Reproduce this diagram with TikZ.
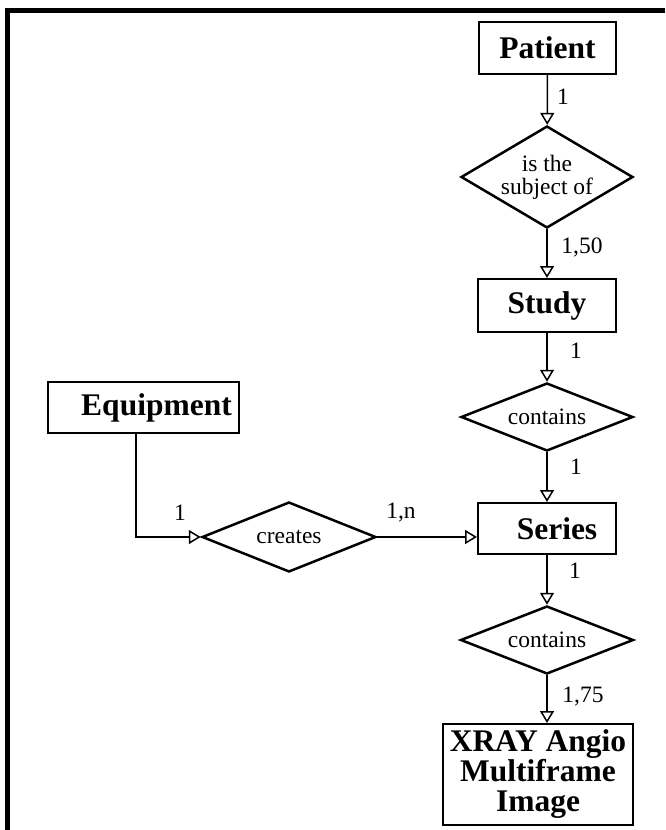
\documentclass[tikz,border=0pt]{standalone}
\usepackage{fontspec}
\setmainfont{Liberation Serif}
\usetikzlibrary{positioning,calc,arrows.meta,shapes.geometric}
\newcommand{\entfont}{\fontsize{31.5}{30}\selectfont\bfseries}
\newcommand{\relfont}{\fontsize{23.5}{23}\selectfont}
\tikzset{
	entity/.style={draw, line width=2pt, font=\entfont, align=center, inner sep=0pt},
	relation/.style={draw, diamond, aspect=2.5, line width=2.5pt, font=\relfont, align=center, inner sep=0pt},
	card/.style={font=\relfont, inner sep=0pt}
}

\begin{document}
\begin{tikzpicture}[x=1pt, y=-1pt, >={Triangle[open, length=12pt, width=14pt]}]
	\useasboundingbox (0, 0) rectangle (665, 830);
	\draw [line width=5pt] (665, 10.5) -- (7.5, 10.5) -- (7.5, 830);

	\begin{scope}
		% main chain
		\node [entity, minimum width=137, minimum height=52] (patient) at (547.5, 48) {Patient};
		\node [relation, minimum width=172, minimum height=102, aspect=1.7] (subj) at (547, 177) {is the\\subject of};
		\node [entity, minimum width=138, minimum height=53] (study) at (547, 305.5) {Study};
		\node [relation, minimum width=172, minimum height=68] (cont1) at (547, 417) {contains};
		\node [entity, minimum width=138, minimum height=51] (series) at (547, 528.5) {\hspace*{20pt}Series};
		\node [relation, minimum width=173, minimum height=68] (cont2) at (547, 640) {contains};
		\node [entity, minimum width=190, minimum height=101] (xray) at (538, 774.5) {XRAY Angio\\Multiframe\\Image};

		% side branch
		\node [entity, minimum width=191, minimum height=51] (equip) at (143.5, 407.5) {\hspace*{26pt}Equipment};
		\node [relation, minimum width=174, minimum height=70] (creates) at (289, 537) {creates};
		\coordinate (bend) at (136, 537);

		\node [card] (p1) at (563, 97) {1};
		\node [card] (s50) at (582, 247) {1,50};
		\node [card] (s1) at (576, 351) {1};
		\node [card] (c1) at (576, 467) {1};
		\node [card] (r1) at (575, 571) {1};
		\node [card] (i75) at (583, 697) {1,75};
		\node [card] (e1) at (180, 513) {1};
		\node [card] (en) at (401, 513) {1,n};

		\draw [->, line width=1.5pt] (patient) -- (subj);
		\draw [->, line width=1.5pt] (subj) -- (study);
		\draw [->, line width=1.5pt] (study) -- (cont1);
		\draw [->, line width=1.5pt] (cont1) -- (series);
		\draw [->, line width=1.5pt] (series) -- (cont2);
		\draw [->, line width=1.5pt] (cont2.south) -- (cont2.south |- xray.north);

		\draw [->, line width=1.5pt] (equip.south -| bend) -- (bend) -- (creates.west);
		\draw [->, line width=1.5pt] (creates.east) -- (creates.east -| series.west);
	\end{scope}
\end{tikzpicture}
\end{document}
